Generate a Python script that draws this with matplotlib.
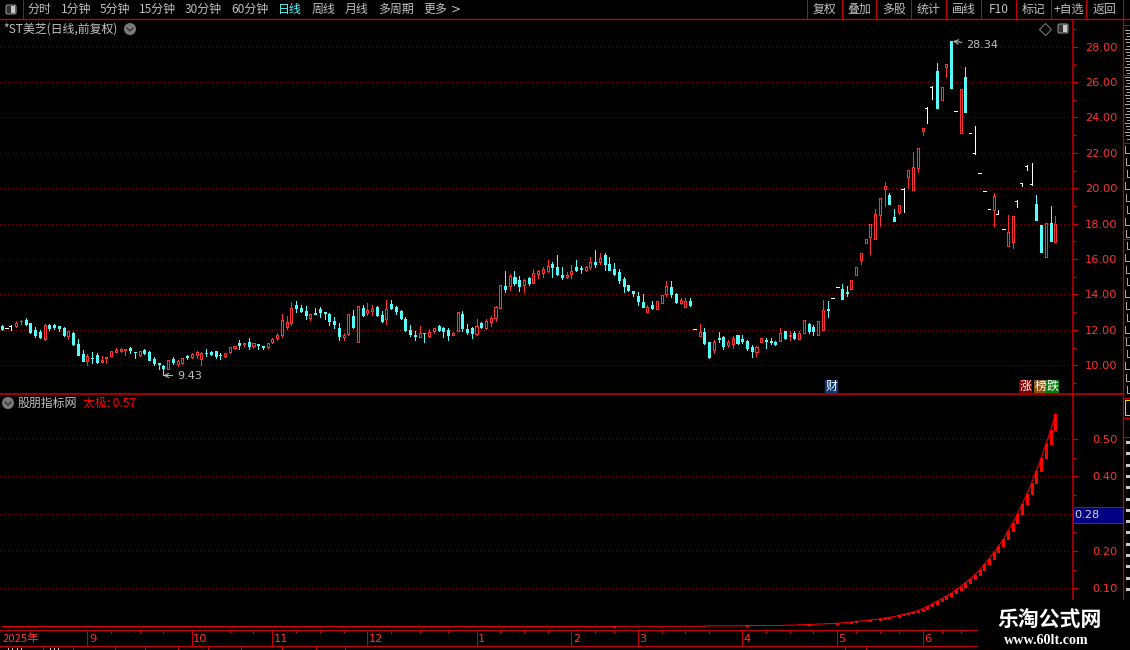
#!/usr/bin/env python3
# -*- coding: utf-8 -*-

import matplotlib
matplotlib.use('Agg')
import matplotlib.pyplot as plt
from matplotlib.patches import Rectangle, Circle, FancyBboxPatch

plt.rcParams['font.family'] = ['Noto Sans CJK SC', 'DejaVu Sans']

# daily candles
opens = [12.2,12.1,12.2,12.2,12.49,12.55,12.38,12.0,11.87,11.49,
    12.25,12.25,12.23,12.1,11.66,11.83,11.23,10.66,10.23,10.43,
    10.6,10.21,10.43,10.55,10.76,10.79,10.87,10.96,10.77,10.57,
    10.89,10.77,10.38,10.13,9.98,9.79,10.38,10.06,10.15,10.51,
    10.45,10.6,10.34,10.72,10.77,10.79,10.6,10.51,10.74,11.0,
    11.28,11.21,11.3,11.09,11.23,11.11,11.02,11.3,11.53,11.74,
    12.19,12.38,13.38,13.21,13.09,12.68,12.94,13.19,13.02,12.9,
    12.53,12.13,11.62,11.75,12.81,11.34,13.21,12.95,13.05,13.29,
    12.84,12.63,13.46,13.29,13.07,12.62,12.0,11.72,11.61,11.85,
    11.63,11.94,12.22,12.11,12.0,11.72,11.96,12.9,12.06,12.11,
    11.76,12.39,12.09,12.45,12.69,13.25,14.47,14.49,14.97,14.8,
    14.52,14.92,14.64,15.14,15.2,15.35,15.7,15.53,15.08,14.97,
    15.14,15.53,15.5,15.4,15.55,15.81,15.81,16.21,15.7,15.42,
    15.25,14.86,14.52,14.19,13.91,13.57,13.01,13.4,13.18,13.51,
    14.02,14.41,14.02,13.51,13.29,13.63,12.04,11.66,11.89,11.33,
    10.88,11.55,11.61,11.16,11.21,11.72,11.5,11.35,11.02,10.74,
    11.3,11.41,11.37,11.31,11.35,11.91,11.65,11.8,11.46,11.8,
    12.35,12.19,11.74,12.02,13.17,13.78,14.44,14.31,14.16,14.31,
    15.12,15.95,16.92,17.23,17.15,18.5,19.97,19.62,18.37,18.66,
    19.95,20.66,19.92,21.16,23.25,24.55,25.72,26.6,25.0,26.84,
    28.34,24.34,23.13,26.26,23.1,21.97,20.84,19.83,18.82,18.78,
    18.57,17.69,16.75,16.98,19.3,20.28,21.28,20.23,19.12,17.93,
    16.09,18.05,16.99]
highs = [12.25,12.1,12.25,12.53,12.58,12.65,12.4,12.14,11.97,12.36,
    12.36,12.36,12.23,12.14,11.91,11.89,11.51,10.87,10.64,10.77,
    10.7,10.55,10.47,10.81,10.96,10.96,10.94,11.06,10.77,10.81,
    10.94,10.79,10.45,10.13,10.04,10.32,10.49,10.3,10.41,10.6,
    10.7,10.83,10.75,10.94,10.83,10.79,10.7,10.7,11.04,11.09,
    11.45,11.28,11.53,11.28,11.23,11.11,11.28,11.53,11.81,12.87,
    12.81,13.55,13.66,13.38,13.36,12.92,13.21,13.32,13.02,12.98,
    12.74,12.41,11.83,12.9,13.15,13.35,13.4,13.5,13.38,13.33,
    13.07,13.68,13.68,13.36,13.12,12.73,12.28,11.94,12.22,11.85,
    12.04,12.09,12.28,12.15,12.09,11.89,12.99,13.07,12.34,12.17,
    12.62,12.43,12.62,12.78,13.35,14.56,15.31,15.14,15.31,15.03,
    14.86,14.97,15.42,15.37,15.53,15.93,15.81,16.21,15.53,15.25,
    15.65,15.93,15.59,15.59,16.09,16.54,16.37,16.32,16.09,15.76,
    15.42,14.97,14.52,14.19,14.13,14.02,13.4,13.63,13.66,13.96,
    14.75,14.75,14.06,13.79,13.79,13.79,12.04,12.34,12.11,11.33,
    11.44,11.89,11.66,11.44,11.66,11.74,11.74,11.41,11.13,11.07,
    11.57,11.52,11.52,11.35,12.13,11.96,11.91,11.91,11.96,12.56,
    12.41,12.3,12.52,13.69,13.63,13.78,14.44,14.59,14.48,14.8,
    15.53,16.32,17.11,17.98,18.83,19.43,20.35,19.73,18.83,19.04,
    20.0,21.03,22.05,22.25,23.38,24.57,25.75,27.05,25.7,27.0,
    28.34,24.34,25.58,26.83,23.1,23.5,20.84,19.83,18.82,19.74,
    18.76,17.69,18.5,18.44,19.32,20.3,21.31,21.43,19.62,17.93,
    18.03,19.0,18.44]
lows = [11.97,12.1,11.97,12.17,12.36,12.27,11.85,11.62,11.53,11.45,
    11.97,12.06,11.91,11.68,11.51,11.17,10.57,10.23,10.04,10.13,
    10.13,10.21,10.15,10.53,10.74,10.74,10.6,10.72,10.43,10.55,
    10.64,10.28,10.04,9.81,9.43,9.77,10.08,9.98,10.1,10.38,
    10.41,10.43,10.04,10.55,10.6,10.43,10.34,10.49,10.72,10.94,
    10.94,11.08,10.94,10.98,10.94,10.94,10.96,11.28,11.45,11.58,
    12.04,12.26,13.02,13.02,12.62,12.58,12.87,12.75,12.64,12.25,
    12.08,11.45,11.45,11.73,12.08,11.34,12.78,12.84,12.84,12.78,
    12.43,12.34,13.16,12.9,12.62,11.96,11.66,11.44,11.61,11.34,
    11.59,11.83,11.91,11.61,11.44,11.72,11.96,11.91,11.76,11.57,
    11.7,12.11,12.04,12.22,12.52,13.25,14.13,14.24,14.52,14.2,
    14.13,14.52,14.64,14.92,14.97,15.25,14.97,15.08,14.86,14.92,
    14.92,15.31,15.2,15.31,15.42,15.53,15.7,15.37,15.37,15.08,
    14.64,14.13,14.19,13.91,13.4,13.29,13.01,13.18,13.18,13.51,
    13.91,13.85,13.51,13.46,13.29,13.35,12.04,11.66,11.21,10.43,
    10.71,11.33,10.93,11.05,10.99,11.21,11.24,10.85,10.46,10.52,
    11.3,10.96,11.19,11.13,11.35,11.46,11.41,11.46,11.46,11.8,
    11.85,11.74,11.74,12.02,12.74,13.78,14.44,13.74,13.91,14.31,
    15.12,15.72,16.92,16.28,17.15,17.87,19.0,19.11,18.14,18.54,
    18.66,20.02,19.92,20.93,23.02,23.7,25.05,24.53,25.0,26.28,
    25.68,24.34,23.13,24.32,23.1,21.95,20.84,19.83,18.82,17.88,
    18.55,17.69,16.75,16.64,18.95,20.13,21.03,20.21,18.22,16.41,
    16.09,17.03,16.99]
closes = [12.05,12.1,12.2,12.4,12.52,12.34,11.89,11.74,11.6,12.3,
    12.1,12.19,12.08,11.74,11.91,11.21,10.6,10.26,10.55,10.4,
    10.19,10.28,10.47,10.81,10.89,10.91,10.94,10.87,10.74,10.81,
    10.68,10.3,10.11,10.09,9.87,10.32,10.17,10.23,10.41,10.47,
    10.62,10.77,10.72,10.68,10.66,10.53,10.57,10.7,11.04,11.09,
    11.17,11.28,11.11,11.26,11.15,11.02,11.26,11.51,11.74,12.57,
    12.45,13.26,13.21,13.06,12.83,12.87,12.92,13.0,12.94,12.53,
    12.34,11.64,11.7,12.9,12.15,13.35,12.84,13.12,13.16,12.84,
    12.49,13.18,13.21,13.07,12.67,12.0,11.76,11.68,11.83,11.81,
    11.87,12.09,11.98,11.91,11.72,11.85,12.99,12.11,11.89,11.81,
    12.22,12.17,12.5,12.67,13.29,14.56,14.3,15.03,14.67,14.49,
    14.8,14.64,15.2,15.31,15.42,15.59,15.53,15.18,14.97,15.08,
    15.31,15.37,15.46,15.57,15.81,15.72,16.04,15.7,15.37,15.14,
    14.8,14.47,14.24,14.11,13.63,13.29,13.27,13.23,13.66,13.96,
    14.47,14.02,13.57,13.68,13.63,13.4,12.04,11.89,11.27,10.48,
    11.33,11.51,11.1,11.33,11.55,11.27,11.35,11.0,10.8,11.02,
    11.52,11.37,11.33,11.2,11.85,11.57,11.74,11.57,11.85,12.56,
    11.91,11.91,12.52,13.13,13.13,13.78,14.44,13.74,14.1,14.8,
    15.53,16.32,17.11,17.98,18.54,19.43,20.12,19.11,18.14,19.04,
    19.95,21.03,21.18,22.25,23.38,24.55,25.72,24.53,25.7,27.0,
    25.68,24.34,25.58,24.32,23.1,21.97,20.84,19.83,18.82,19.57,
    18.57,17.69,17.52,18.44,19.3,20.28,21.28,20.23,18.22,16.41,
    18.03,17.03,17.99]

# lower panel indicator
taiji = [-0.003,-0.003,-0.003,-0.003,-0.003,-0.003,-0.003,-0.003,-0.003,-0.003,
    -0.003,-0.003,-0.003,-0.003,-0.003,-0.003,-0.003,-0.003,-0.003,-0.003,
    -0.003,-0.003,-0.003,-0.003,-0.003,-0.003,-0.003,-0.003,-0.003,-0.003,
    -0.003,-0.003,-0.003,-0.003,-0.003,-0.003,-0.003,-0.003,-0.003,-0.003,
    -0.003,-0.003,-0.003,-0.003,-0.003,-0.003,-0.003,-0.003,-0.003,-0.003,
    -0.003,-0.003,-0.003,-0.003,-0.003,-0.003,-0.003,-0.003,-0.003,-0.003,
    -0.003,-0.003,-0.003,-0.003,-0.003,-0.003,-0.003,-0.003,-0.003,-0.003,
    -0.003,-0.003,-0.003,-0.003,-0.003,-0.003,-0.003,-0.003,-0.003,-0.003,
    -0.003,-0.003,-0.003,-0.003,-0.003,-0.003,-0.003,-0.003,-0.003,-0.003,
    -0.003,-0.003,-0.003,-0.003,-0.003,-0.003,-0.003,-0.003,-0.003,-0.003,
    -0.003,-0.003,-0.003,-0.003,-0.003,-0.003,-0.003,-0.003,-0.003,-0.003,
    -0.003,-0.003,-0.003,-0.003,-0.003,-0.003,-0.003,-0.003,-0.003,-0.003,
    -0.003,-0.003,-0.003,-0.003,-0.003,-0.003,-0.003,-0.003,-0.003,-0.003,
    -0.002,-0.002,-0.002,-0.002,-0.002,-0.002,-0.002,-0.002,-0.002,-0.002,
    -0.002,-0.002,-0.002,-0.002,-0.002,-0.002,-0.002,-0.002,-0.002,-0.002,
    -0.001,-0.001,-0.001,-0.001,-0.001,-0.001,-0.001,-0.001,0.0,0.0,
    0.0,0.0,0.0,0.0,0.0,0.0,0.001,0.001,0.001,0.002,
    0.002,0.003,0.003,0.004,0.004,0.005,0.005,0.006,0.007,0.008,
    0.009,0.011,0.012,0.013,0.015,0.016,0.018,0.020,0.022,0.024,
    0.027,0.030,0.033,0.036,0.040,0.045,0.051,0.058,0.065,0.072,
    0.079,0.086,0.096,0.104,0.115,0.125,0.136,0.149,0.164,0.179,
    0.196,0.213,0.231,0.254,0.276,0.299,0.326,0.354,0.383,0.416,
    0.450,0.487,0.525,0.568]
taiji = taiji[-223:]

price_ticks = [10, 12, 14, 16, 18, 20, 22, 24, 26, 28]
price_minor = [9, 11, 13, 15, 17, 19, 21, 23, 25, 27, 29]
taiji_ticks = [0.1, 0.2, 0.3, 0.4, 0.5]
taiji_minor = [0.15, 0.25, 0.35, 0.45]

month_labels = ['9', '10', '11', '12', '1', '2', '3', '4', '5', '6']
month_starts = [18, 40, 57, 77, 100, 120, 134, 156, 176, 194]
week_ticks = [23, 29, 34, 48, 53, 62, 67, 72, 82, 88, 94, 105, 110, 115, 125, 129,
              139, 144, 149, 161, 166, 171, 180, 185, 189, 198, 202]

left_tools = ['分时', '1分钟', '5分钟', '15分钟', '30分钟', '60分钟', '日线', '周线', '月线', '多周期', '更多']
left_tool_x = [28, 61, 100, 139, 185, 231, 278, 312, 345, 378, 423]
right_tools = ['复权', '叠加', '多股', '统计', '画线', 'F10', '标记', '+自选', '返回']
right_seps = [807.3, 841.7, 876.3, 911.3, 946.3, 981.3, 1016.3, 1051.3, 1086.3, 1123.3]

W, H = 1130, 650
RED = '#ff3232'
LINE = '#c80000'
GRID = '#8a0000'
CYAN = '#54fcfc'
GRAY = '#c0c0c0'
PX = 0.72    # one pixel in points at dpi 100

XLIM = (-0.42, 225.7)
x_idx = list(range(len(closes)))


def make_axes(x0, y0, x1, y1):
    ax = fig.add_axes([x0 / W, 1 - y1 / H, (x1 - x0) / W, (y1 - y0) / H])
    ax.set_facecolor('black')
    for s in ['top', 'left', 'bottom']:
        ax.spines[s].set_visible(False)
    ax.spines['right'].set_color(LINE)
    ax.spines['right'].set_linewidth(1.5 * PX)
    ax.set_xlim(*XLIM)
    ax.set_xticks([])
    ax.yaxis.tick_right()
    return ax


def style_yaxis(ax, ticks, minor, labels):
    ax.set_yticks(ticks)
    ax.set_yticks(minor, minor=True)
    ax.set_yticklabels(labels, family='DejaVu Sans', fontsize=8.2, color=RED, ha='right')
    ax.tick_params(axis='y', which='major', direction='out', length=5 * PX, width=1.2 * PX, color=LINE, pad=28.5)
    ax.tick_params(axis='y', which='minor', direction='out', length=3 * PX, width=1.2 * PX, color=LINE)
    ax.hlines(ticks, XLIM[0], XLIM[1], colors=GRID, linewidth=PX, linestyles=(0, (1, 3)), antialiased=False, zorder=1)


def draw_candles(ax):
    for i in x_idx:
        o, h, l, c = opens[i], highs[i], lows[i], closes[i]
        if c > o:
            ax.vlines(i, l, h, colors=RED, linewidth=PX, antialiased=False, zorder=2)
            ax.bar(i, c - o, bottom=o, width=0.43, facecolor='black', edgecolor=RED,
                   linewidth=PX, antialiased=False, zorder=3)
        elif c < o:
            ax.vlines(i, l, h, colors=CYAN, linewidth=PX, antialiased=False, zorder=2)
            ax.bar(i, o - c, bottom=c, width=0.43, facecolor=CYAN, edgecolor=CYAN,
                   linewidth=PX, antialiased=False, zorder=3)
        else:
            # one price days and limit days are white
            if h > l:
                ax.vlines(i, l, h, colors='white', linewidth=PX, antialiased=False, zorder=2)
                ax.hlines(c, i - 0.45, i, colors='white', linewidth=PX, antialiased=False, zorder=2)
            else:
                ax.hlines(c, i - 0.3, i + 0.3, colors='white', linewidth=PX, antialiased=False, zorder=2)


fig = plt.figure(figsize=(W / 100, H / 100), dpi=100, facecolor='black')

# price panel
ax1 = make_axes(0, 20, 1073, 394)
ax1.set_ylim(8.38, 29.5)
style_yaxis(ax1, price_ticks, price_minor, ['%.2f' % t for t in price_ticks])
draw_candles(ax1)
ax1.annotate('28.34', xy=(200.4, 28.3), xytext=(966, 605), textcoords='figure pixels',
             fontsize=8, color=GRAY, family='DejaVu Sans', va='center',
             arrowprops=dict(arrowstyle='->', color=GRAY, lw=PX, shrinkA=1, shrinkB=0))
ax1.annotate('9.43', xy=(34, 9.43), xytext=(177, 274), textcoords='figure pixels',
             fontsize=8, color=GRAY, family='DejaVu Sans', va='center',
             arrowprops=dict(arrowstyle='->', color=GRAY, lw=PX, shrinkA=1, shrinkB=0))
ax1.vlines(34, 9.43, 9.75, colors=GRAY, linewidth=PX, antialiased=False, zorder=4)

# indicator panel, the 0.30 label sits under the value flag
ax2 = make_axes(0, 395, 1073, 630)
ax2.set_ylim(-0.0121, 0.6188)
style_yaxis(ax2, taiji_ticks, taiji_minor, ['0.10', '0.20', '', '0.40', '0.50'])
ax2.plot(x_idx, taiji, color='#ff0000', linewidth=PX, zorder=3)
ax2.vlines(x_idx[1:], taiji[:-1], taiji[1:], colors='#ff0000', linewidth=3 * PX, antialiased=False, zorder=3)

# date axis
ax3 = fig.add_axes([0, 1 - 646 / H, 978 / W, 16 / H])
ax3.set_facecolor('black')
ax3.set_xlim(XLIM[0], XLIM[0] + (XLIM[1] - XLIM[0]) * 978 / 1073)
ax3.set_ylim(0, 1)
ax3.set_yticks([])
ax3.set_xticks([])
for s in ax3.spines.values():
    s.set_color(LINE)
    s.set_linewidth(PX)
ax3.spines['left'].set_visible(False)
ax3.spines['right'].set_visible(False)
ax3.vlines(month_starts, 0, 1, colors=LINE, linewidth=PX, antialiased=False)
ax3.vlines(week_ticks, 0.8, 1, colors=LINE, linewidth=PX, antialiased=False)
for m, lab in zip(month_starts, month_labels):
    ax3.text(m + 0.3, 0.42, lab, color=RED, fontsize=8.2, family='DejaVu Sans', va='center', ha='left')
ax3.text(0.2, 0.42, '2025年', color=RED, fontsize=8.2, va='center', ha='left')

# window furniture, drawn in screen pixels on top of everything
ax0 = fig.add_axes([0, 0, 1, 1], zorder=10)
ax0.set_xlim(0, W)
ax0.set_ylim(H, 0)
ax0.axis('off')
ax0.patch.set_visible(False)

ax0.plot([0, 1130], [19.3, 19.3], color=LINE, lw=1.3 * PX)
ax0.plot([0, 1123], [394.3, 394.3], color='#d00000', lw=1.5 * PX)
ax0.plot([0, 978], [646.3, 646.3], color=LINE, lw=PX)
ax0.plot([23, 23], [0, 19], color=LINE, lw=PX)
for x in right_seps:
    ax0.plot([x, x], [0, 19], color=LINE, lw=PX)
ax0.plot([1123.3, 1123.3], [19, 600], color=LINE, lw=1.2 * PX)

for x, lab in zip(left_tool_x, left_tools):
    ax0.text(x, 9.5, lab, color=CYAN if lab == '日线' else GRAY, fontsize=8.6, va='center', ha='left')
ax0.text(451, 9.5, '>', color=GRAY, fontsize=8.6, family='DejaVu Sans', va='center', ha='left')
for i, lab in enumerate(right_tools):
    ax0.text((right_seps[i] + right_seps[i + 1]) / 2, 9.5, lab, color=GRAY, fontsize=8.6, va='center', ha='center')

ax0.add_patch(FancyBboxPatch((6, 5), 10, 9, boxstyle='round,pad=0,rounding_size=1.5', fc='#303030', ec='#9a9a9a', lw=PX))
ax0.add_patch(Rectangle((11, 6), 4, 7, fc='#c8c8c8', ec='none'))
ax0.add_patch(FancyBboxPatch((1058, 24), 10, 9, boxstyle='round,pad=0,rounding_size=1.5', fc='#303030', ec='#9a9a9a', lw=PX))
ax0.add_patch(Rectangle((1063, 25), 4, 7, fc='#c8c8c8', ec='none'))
ax0.plot([1044.5], [29], marker='D', ms=6, mfc='none', mec='#808080', mew=PX)

ax0.text(3, 29, '*ST美芝(日线,前复权)', color=GRAY, fontsize=8.6, va='center', ha='left')
ax0.text(18, 403, '股朋指标网', color=GRAY, fontsize=8.6, va='center', ha='left')
ax0.text(83, 403, '太极: 0.57', color='#ff0000', fontsize=8.6, va='center', ha='left')
for cx, cy in [(130, 29), (8, 403)]:
    ax0.add_patch(Circle((cx, cy), 6, fc='#7a7a7a', ec='none'))
    ax0.plot([cx - 3, cx, cx + 3], [cy - 1, cy + 2, cy - 1], color='#303030', lw=1.3 * PX)

# news badges
for x, lab, col in [(825, '财', '#0a3a78'), (1019, '涨', '#800000'), (1034, '榜', '#8a5010'), (1046, '跌', '#0a7a0a')]:
    ax0.add_patch(Rectangle((x, 380), 13, 13, fc=col, ec='none'))
    ax0.text(x + 6.5, 386.3, lab, color='white', fontsize=8.6, va='center', ha='center')

# current value flag on the indicator scale
ax0.add_patch(Rectangle((1073, 507.3), 49.5, 16, fc='#000080', ec=LINE, lw=PX))
ax0.text(1074, 515.5, '0.28', color='#d8d8d8', fontsize=8.2, family='DejaVu Sans', va='center', ha='left')

# cut off side column on the right edge, only stubs of it show
for y in [25, 75, 142.7, 239, 336.7, 398, 418, 437]:
    ax0.plot([1123, 1130], [y, y], color=LINE, lw=PX)
for k in range(36):
    y = 30 + k * 3.1
    ax0.plot([1125 + k % 3, 1130], [y, y], color='#a8a8a8', lw=PX)
for k in range(21):
    y = 146 + k * 12
    ax0.plot([1125 + k % 3, 1125 + k % 3, 1130], [y, y + 7, y + 7], color='#a8a8a8', lw=PX)
for k in range(14):
    y = 442 + k * 11.3
    ax0.plot([1127, 1130], [y, y], color='#c8c8c8', lw=3 * PX)
ax0.add_patch(Rectangle((1125, 400), 6, 15, fc='black', ec='#d8d800', lw=PX))

# cut off tab row along the bottom edge
for x in [43, 73, 115, 145, 178, 208, 241, 282, 316, 345, 845, 866]:
    ax0.plot([x, x], [646, 650], color=LINE, lw=PX)
for x in [8, 12, 17, 21, 50, 54, 58]:
    ax0.plot([x, x], [648, 650], color='#c0c0c0', lw=PX)

# watermark block
ax0.add_patch(Rectangle((978, 600), 152, 50, fc='black', ec='none', zorder=5))
ax0.text(1050, 619.5, '乐淘公式网', color='white', fontsize=15, fontweight='bold', va='center', ha='center', zorder=6)
ax0.text(1046, 640, 'www.60lt.com', color='white', fontsize=10.2, family='Liberation Serif', fontweight='bold',
         va='center', ha='center', zorder=6)

plt.savefig('out.png', dpi=100, facecolor='black')
